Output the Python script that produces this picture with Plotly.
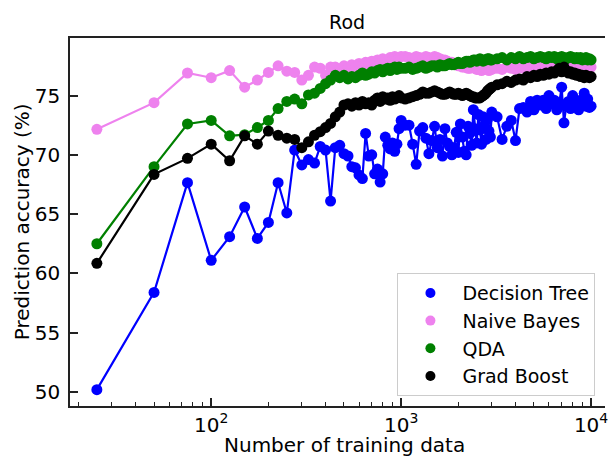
import plotly.graph_objects as go

# ---------------- data ----------------
n_train = list(range(25, 1001, 25)) + list(range(1050, 3001, 50)) + list(range(3200, 10001, 200))

decision_tree = [
    # 25 .. 1000 (step 25)
    50.2, 58.4, 67.65, 61.1, 63.1, 65.6, 62.95, 64.3, 67.65, 65.1,
    70.4, 69.15, 69.6, 69.3, 70.7, 70.4, 66.1, 70.6, 70.8, 70.1,
    69.9, 69.0, 68.9, 68.3, 68.0, 71.8, 69.9, 70.0, 68.4, 68.8,
    67.7, 68.4, 71.5, 70.8, 70.5, 71.0, 70.3, 70.9, 72.2, 72.9,
    # 1050 .. 3000 (step 50)
    72.5, 72.5, 70.9, 69.2, 72.0, 72.3, 71.4, 70.1, 71.2, 72.4,
    70.6, 71.3, 69.9, 72.2, 71.0, 70.7, 70.0, 70.6, 71.9, 70.2,
    72.6, 71.5, 70.3, 70.0, 72.4, 71.8, 70.8, 73.8, 72.2, 71.0,
    73.4, 72.1, 70.9, 73.2, 72.5, 71.3, 73.0, 72.0, 71.5, 73.6,
    # 3200 .. 10000 (step 200)
    73.2, 71.3, 72.4, 72.9, 71.2, 73.9, 74.0, 73.6, 74.5, 73.8,
    74.6, 74.2, 74.6, 73.9, 75.0, 74.3, 74.6, 73.8, 74.4, 75.7,
    72.7, 74.1, 74.5, 73.9, 75.0, 74.3, 74.5, 73.8, 74.6, 74.2,
    75.2, 74.1, 74.7, 74.0, 74.1,
]

naive_bayes = [
    72.15, 74.4, 76.9, 76.5, 77.1, 75.7, 76.3, 76.95, 77.5, 77.05,
    76.95, 76.3, 76.7, 77.4, 77.3, 76.7, 77.4, 77.4, 77.2, 77.5,
    77.3, 77.6, 77.4, 77.7, 77.5, 77.8, 77.6, 77.9, 77.7, 78.0,
    77.8, 78.1, 77.9, 78.0, 78.2, 78.0, 78.3, 78.1, 78.2, 78.3,
    78.3, 78.2, 78.1, 78.3, 78.2, 78.1, 78.3, 78.2, 78.1, 78.3,
    78.2, 78.1, 78.0, 78.0, 77.9, 77.8, 77.8, 77.7, 77.6, 77.5,
    77.5, 77.4, 77.4, 77.5, 77.3, 77.3, 77.4, 77.4, 77.3, 77.2,
    77.2, 77.3, 77.1, 77.2, 77.3, 77.3, 77.2, 77.1, 77.2, 77.2,
    77.3, 77.2, 77.4, 77.3, 77.2, 77.4, 77.3, 77.5, 77.3, 77.4,
    77.3, 77.5, 77.4, 77.3, 77.5, 77.4, 77.3, 77.5, 77.4, 77.6,
    77.4, 77.5, 77.3, 77.5, 77.4, 77.6, 77.4, 77.5, 77.3, 77.5,
    77.4, 77.6, 77.4, 77.5, 77.4,
]

qda = [
    62.5, 69.0, 72.6, 72.9, 71.6, 71.7, 72.3, 72.9, 73.9, 74.5,
    74.7, 74.3, 75.05, 75.2, 75.6, 76.0, 76.3, 76.7, 76.5, 76.7,
    76.4, 76.6, 76.5, 76.7, 76.9, 76.7, 76.8, 77.0, 76.9, 77.1,
    77.2, 77.0, 77.2, 77.3, 77.1, 77.3, 77.4, 77.2, 77.4, 77.3,
    77.3, 77.4, 77.2, 77.3, 77.4, 77.5, 77.3, 77.4, 77.5, 77.5,
    77.4, 77.6, 77.5, 77.5, 77.6, 77.7, 77.6, 77.6, 77.7, 77.8,
    77.7, 77.7, 77.8, 77.9, 77.9, 77.8, 77.9, 78.0, 78.0, 77.9,
    78.0, 78.1, 78.0, 77.9, 78.0, 78.0, 78.1, 78.1, 78.0, 78.0,
    78.1, 78.2, 78.0, 78.2, 78.1, 78.3, 78.1, 78.2, 78.3, 78.1,
    78.2, 78.3, 78.2, 78.1, 78.3, 78.2, 78.3, 78.1, 78.2, 78.3,
    78.2, 78.1, 78.2, 78.3, 78.2, 78.1, 78.2, 78.1, 78.2, 78.0,
    78.1, 78.2, 78.0, 78.1, 78.0,
]

grad_boost = [
    60.85, 68.35, 69.7, 70.9, 69.5, 71.6, 70.9, 72.0, 71.65, 71.4,
    71.3, 70.6, 71.1, 71.65, 71.95, 72.3, 72.65, 73.2, 73.6, 74.2,
    74.3, 74.1, 74.4, 74.2, 74.5, 74.3, 74.4, 74.2, 74.6, 74.8,
    74.5, 74.9, 74.7, 74.8, 74.6, 74.9, 74.7, 74.8, 75.0, 74.8,
    74.7, 74.8, 74.9, 75.0, 75.1, 75.3, 75.2, 75.2, 75.3, 75.4,
    75.3, 75.2, 75.1, 75.1, 75.2, 75.3, 75.2, 75.1, 75.1, 75.2,
    75.1, 75.0, 75.1, 75.2, 75.1, 75.0, 74.9, 74.9, 74.8, 74.8,
    74.8, 74.8, 74.9, 75.0, 75.1, 75.2, 75.4, 75.5, 75.6, 75.7,
    75.9, 76.0, 76.2, 76.1, 76.3, 76.4, 76.3, 76.6, 76.5, 76.7,
    76.6, 76.8, 76.7, 76.9, 76.8, 77.0, 76.9, 77.1, 77.3, 77.0,
    77.4, 77.1, 76.9, 77.0, 76.8, 76.9, 76.7, 76.8, 76.6, 76.7,
    76.5, 76.7, 76.6, 76.5, 76.6,
]

series_names = ["Decision Tree", "Naive Bayes", "QDA", "Grad Boost"]
series_values = [decision_tree, naive_bayes, qda, grad_boost]
series_colors = ["#0000ff", "#ee82ee", "#008000", "#000000"]

x_tick_vals = [100, 1000, 10000]
x_tick_text = ["10<sup>2</sup>", "10<sup>3</sup>", "10<sup>4</sup>"]
x_minor_vals = [20, 30, 40, 50, 60, 70, 80, 90,
                200, 300, 400, 500, 600, 700, 800, 900,
                2000, 3000, 4000, 5000, 6000, 7000, 8000, 9000]
y_tick_vals = [50, 55, 60, 65, 70, 75]

FONT = "DejaVu Sans"

fig = go.Figure()
for name, vals, col in zip(series_names, series_values, series_colors):
    fig.add_trace(go.Scatter(
        x=n_train, y=vals, mode="lines+markers", name=name,
        line=dict(color=col, width=2.2),
        marker=dict(color=col, size=11),
        showlegend=False,
    ))
for i, (name, col) in enumerate(zip(series_names, series_colors)):
    fig.add_trace(go.Scatter(
        x=[None], y=[None], mode="markers", name=name,
        marker=dict(color=col, size=10),
        legendgroup=f"g{i}", showlegend=True,
    ))

fig.update_layout(
    width=608, height=456,
    margin=dict(l=70, r=0, t=38, b=50),
    paper_bgcolor="white", plot_bgcolor="white",
    font=dict(family=FONT, color="black", size=19),
    title=dict(text="Rod", x=0.518, xanchor="center", xref="paper",
               y=1 - 22 / 456, yanchor="middle", yref="container",
               font=dict(size=19, family=FONT, color="black")),
    legend=dict(x=0.612, y=0.027, xanchor="left", yanchor="bottom",
                bgcolor="white", bordercolor="#cccccc", borderwidth=1,
                font=dict(size=19, family=FONT, color="black"),
                tracegroupgap=10, itemwidth=54, traceorder="normal",
                entrywidth=220, entrywidthmode="pixels"),
    xaxis=dict(type="log", range=[1.2565, 4.0733],
               showline=True, linecolor="#222222", linewidth=1.5, mirror=True,
               showgrid=False, zeroline=False,
               ticks="inside", ticklen=8, tickwidth=2, tickcolor="#222222",
               tickvals=x_tick_vals, ticktext=x_tick_text,
               ticklabeloverflow="allow",
               tickfont=dict(size=20, family=FONT),
               minor=dict(ticks="inside", ticklen=4, tickwidth=1,
                          tickcolor="#222222", tickvals=x_minor_vals,
                          showgrid=False)),
    yaxis=dict(range=[48.82, 79.85],
               showline=True, linecolor="#222222", linewidth=1.5, mirror=False,
               showgrid=False, zeroline=False,
               ticks="inside", ticklen=8, tickwidth=2, tickcolor="#222222",
               tickvals=y_tick_vals, ticklabelstandoff=4,
               tickfont=dict(size=20, family=FONT)),
    annotations=[
        dict(text="Number of training data", xref="paper", yref="paper",
             x=0.513, y=-0.105, xanchor="center", yanchor="middle",
             showarrow=False, font=dict(size=20, family=FONT, color="black")),
        dict(text="Prediction accuracy (%)", xref="paper", yref="paper",
             x=-0.0892, y=0.5, xanchor="center", yanchor="middle",
             textangle=-90, showarrow=False,
             font=dict(size=20, family=FONT, color="black")),
    ],
)

fig.write_html("out.html")
